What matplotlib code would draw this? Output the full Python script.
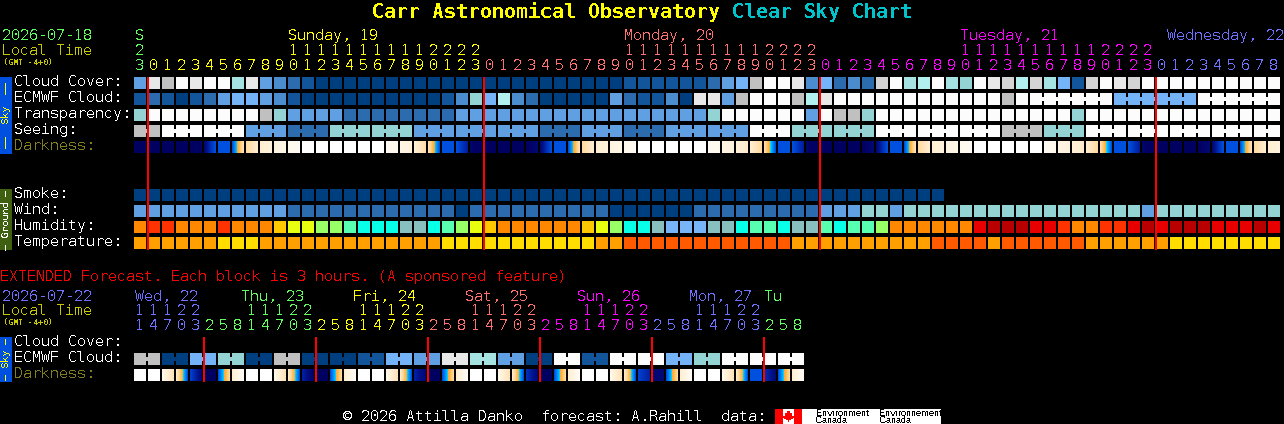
#!/usr/bin/env python3
"""Clear sky chart: one block per hour, black background, fixed pitch labels."""

import matplotlib

matplotlib.use("Agg")
import matplotlib.pyplot as plt
import numpy as np
from matplotlib.colors import LinearSegmentedColormap

# sky palette, from clear/good (dark blue) to overcast/poor (white)
SKY = ["#003f7f", "#13559a", "#2b6bae", "#4b8ccf", "#5f9fe2", "#74b3f7", "#93d3d3",
       "#a5e3e3", "#b2f0f0", "#c0c0c0", "#d4d4d4", "#e8e8e8", "#fcfcfc"]
HUMID = ["#b80000", "#e80000", "#ff3300", "#ff8800", "#ffc800", "#e8ff10", "#98ff66",
         "#58ffb0", "#08ffe8", "#88c0c0", "#78b4f8"]
TEMP = ["#ffdd00", "#ffa000", "#ff5a00"]

GREEN = "#60ff60"
YELLOW = "#ffff00"
SALMON = "#ff7070"
MAGENTA = "#ff00ff"
BLUE = "#7070ff"

cloud = [4, 11, 9, 12, 11, 12, 12, 7, 11, 4, 3, 2, 1, 0, 0, 0, 0, 0, 0, 0, 0,
         0, 0, 0, 0, 0, 0, 0, 0, 0, 0, 0, 0, 0, 0,
         1, 1, 1, 1, 1, 1, 2, 4, 5, 9, 12, 12, 11, 3, 5, 2, 3,
         2, 10, 12, 7, 8, 12, 7, 6, 12, 11, 10, 8, 10, 7, 5, 1, 10, 12, 11, 10, 12,
         12, 12, 12, 12, 12, 12, 12, 12, 12]
ecmwf = [1, 2, 1, 0, 1, 2, 4, 5, 5, 4, 3, 1, 0, 0, 0, 0, 0, 0, 0, 0, 0,
         0, 1, 3, 6, 5, 8, 3, 2, 0, 0, 0, 0, 0, 4, 2, 1, 1, 3, 0, 11, 11, 4, 9,
         12, 12, 12, 9, 8, 11, 12, 12,
         12, 12, 12, 12, 12, 12, 12, 12, 12, 12, 9, 12,
         12, 12, 12, 12, 12, 12, 5, 5, 5, 5, 5, 5, 12, 12, 12, 12, 12, 12]
ecmwf_runs = [(64, 69), (70, 75), (76, 81)]
transparency = [6, 12, 12, 12, 12, 12, 12, 12, 12, 9, 6, 4, 4, 4, 4, 2, 2, 2, 2, 2, 2,
                2, 2, 4, 4, 4, 4, 4, 4, 4, 4, 4, 4, 4, 4, 4, 4, 4, 4, 4, 4, 6,
                12, 12, 12, 12, 12, 12, 4, 12, 9, 9,
                6, 12, 12, 12, 12, 12, 12, 12, 12, 12, 12, 12, 12, 12, 12, 6,
                12, 12, 12, 12, 12, 12, 12, 12, 12, 12, 12, 12, 12, 12]
seeing_levels = [9, 12, 12, 4, 2, 6, 6, 4, 4, 4, 2, 4, 2, 4, 4, 12, 6, 6, 12, 12, 12, 9, 6,
                 12, 12, 12, 12, 12]
seeing_sizes = [2] + [3] * 26 + [2]
smoke = [0] * 58
wind = [4, 4, 4, 4, 4, 4, 4, 4, 4, 4, 4, 2, 2, 2, 2, 2, 2, 2, 2, 2, 2,
        2, 2, 0, 2, 2, 2, 2, 2, 2, 2, 2, 2, 2, 0, 0, 0, 0, 0, 0,
        2, 2, 2, 2, 2, 2, 2, 2, 2, 4, 4, 4,
        6, 6, 4, 6, 6, 6, 6, 6, 6, 6, 6, 6, 6, 6, 6, 6, 6, 6, 6, 6, 4,
        6, 6, 6, 6, 6, 6, 6, 6, 6]
humidity = [3, 2, 2, 3, 3, 3, 2, 3, 3, 3, 4, 5, 5, 6, 6, 7, 8, 8, 8, 9, 9,
            8, 7, 6, 5, 4, 3, 3, 3, 3, 3, 3, 4, 5, 6, 8, 8, 9, 10, 10, 10,
            9, 9, 8, 7, 7, 8, 9, 9, 7, 8, 7,
            7, 6, 3, 3, 3, 3, 3, 3, 1, 0, 0, 0, 1, 1, 2, 3, 3, 2, 2, 1, 0,
            1, 0, 0, 0, 1, 1, 1, 0, 1]
temperature = [1, 1, 1, 1, 1, 1, 0, 0, 0, 1, 1, 1, 1, 1, 1, 1, 1, 1, 1, 1, 1,
               1, 0, 0, 0, 0, 0, 0, 0, 0, 0, 0, 0, 1, 1,
               2, 2, 2, 2, 2, 2, 2, 2, 2, 2, 2, 2, 1, 1, 1, 1, 1,
               1, 1, 1, 1, 1, 2, 2, 2, 2, 1, 2, 2, 2, 2, 2, 2, 1, 1, 1, 1, 1, 1,
               0, 0, 0, 0, 0, 0, 0, 0]

# darkness level at left and right edge of a block: 0 is white day, 8 is deep night
dark_left = [8, 8, 8, 8, 8, 7.5, 5, 5, 2, 1, 0.7, 0.4, 0, 0, 0, 0, 0, 0, 0.3, 0.6, 0.9, 1.6,
             5, 5, 7.8, 8, 8, 8, 8, 7.5, 5, 5, 2, 1, 0.7, 0.4, 0, 0, 0, 0, 0, 0.3, 0.6, 0.9,
             1, 1.8, 5, 5, 7.8, 8, 8, 8, 8, 7.5, 5, 5, 2, 1, 0.7, 0.4, 0, 0, 0, 0, 0, 0.3, 0.6,
             0.9, 1, 1.8, 5, 5, 7.8, 8, 8, 8, 8, 7.5, 5, 5, 2, 1]
dark_right = [8, 8, 8, 8, 7.9, 5, 5, 1.6, 1, 0.8, 0.5, 0.3, 0, 0, 0, 0, 0, 0, 0.4, 0.8, 1.8, 5,
              5, 6.6, 8, 8, 8, 8, 7.5, 5, 5, 1.6, 1, 0.8, 0.5, 0.3, 0, 0, 0, 0, 0, 0.4, 0.8, 1.1,
              2, 5, 5, 6.6, 8, 8, 8, 8, 7.5, 5, 5, 1.6, 1, 0.8, 0.5, 0.3, 0, 0, 0, 0, 0, 0.4, 0.8,
              1.1, 2, 5, 5, 6.6, 8, 8, 8, 8, 7.5, 5, 5, 1.6, 1, 0.8]

hour_ones = [3] + [h % 10 for h in range(24)] * 3 + list(range(9))
hour_tens = ["2"] + ([""] * 10 + ["1"] * 10 + ["2"] * 4) * 3 + [""] * 9
hour_colors = [GREEN] + [YELLOW] * 24 + [SALMON] * 24 + [MAGENTA] * 24 + [BLUE] * 9

# extended forecast
ext_ecmwf = [9, 0, 5, 6, 0, 9, 0, 0, 1, 5, 4, 11, 7, 4, 0, 12, 1, 12, 12, 5, 6, 12, 12, 12]
ext_dark_left = [0, 0, 0.4, 1.2, 5.5, 8, 5, 1,
                 0, 0, 0.4, 1.2, 6.5, 8, 5, 1,
                 0, 0, 0.4, 1.2, 6.5, 8, 5, 1,
                 0, 0, 0.4, 1.2, 6, 8, 5, 1,
                 0, 0, 0.4, 1.2, 5.5, 7.5, 5, 1,
                 0, 0, 0.4, 1.2, 5, 6, 5, 1]
ext_dark_right = [0, 0, 1.6, 5, 7.5, 8, 2, 0.2,
                  0, 0, 1.6, 5, 7.9, 8, 2, 0.2,
                  0, 0, 1.6, 5, 7.5, 8, 2, 0.2,
                  0, 0, 1.6, 5, 7.5, 8, 2, 0.2,
                  0, 0, 1.6, 5, 6.5, 7.5, 2, 0.2,
                  0, 0, 1.6, 5, 5, 7.5, 2, 0.2]
ext_hours = [1, 4, 7, 0, 3, 2, 5, 8] * 6
ext_tens = ["1", "1", "1", "2", "2", "", "", ""] * 6
ext_colors = [BLUE] * 5 + [GREEN] * 8 + [YELLOW] * 8 + [SALMON] * 8 + [MAGENTA] * 8 + [BLUE] * 8 + [GREEN] * 3
ext_days = [("Wed, 22", BLUE, 135), ("Thu, 23", GREEN, 241), ("Fri, 24", YELLOW, 353),
            ("Sat, 25", SALMON, 465), ("Sun, 26", MAGENTA, 577), ("Mon, 27", BLUE, 689),
            ("Tu", GREEN, 764)]

DARK_CMAP = LinearSegmentedColormap.from_list(
    "darkness",
    [(0 / 8, "#ffffff"), (1 / 8, "#ffeed2"), (2 / 8, "#ffd9a0"), (3 / 8, "#ffb848"),
     (3.5 / 8, "#ffa030"), (3.501 / 8, "#00e0ff"), (4 / 8, "#00a0ff"), (5 / 8, "#0050e0"),
     (6 / 8, "#0030b8"), (7 / 8, "#001088"), (8 / 8, "#000060")],
    N=1024,
)

GRID_X = 134
PITCH = 14
CELL = 12
MONO = "DejaVu Sans Mono"

plt.rcParams["text.antialiased"] = False
plt.rcParams["text.hinting"] = "native"
plt.rcParams["text.hinting_factor"] = 1
plt.rcParams["font.family"] = MONO


def col_x(col):
    return GRID_X + PITCH * np.asarray(col)


def draw_row(ax, top, levels, palette, runs=()):
    cols = np.arange(len(levels))
    colors = [palette[v] for v in levels]
    ax.bar(col_x(cols), CELL, width=CELL, bottom=top, align="edge", color=colors,
           linewidth=0, antialiased=False)
    for first, last in runs:
        for col in range(first, last):
            ax.bar(col_x(col) + CELL, 4, width=PITCH - CELL, bottom=top + 4, align="edge",
                   color=palette[levels[col]], linewidth=0, antialiased=False)


def draw_darkness(ax, top, left, right):
    for col, (a, b) in enumerate(zip(left, right)):
        steps = np.linspace(a, b, CELL) / 8
        ax.bar(col_x(col) + np.arange(CELL), CELL, width=1, bottom=top, align="edge",
               color=DARK_CMAP(steps), linewidth=0, antialiased=False)


def draw_midnight(ax, cols, top, bottom):
    for col in cols:
        bars = ax.bar(col_x(col) - 1, bottom - top, width=2, bottom=top, align="edge",
                      color="#ff0000", linewidth=0, antialiased=True, zorder=3)
        bars[0].set_snap(False)


def label(ax, x, y, text, color="white", size=10.75, **kwargs):
    ax.text(x, y, text, color=color, fontsize=size, va="baseline", **kwargs)


def side_tab(ax, top, bottom, face, text, color):
    ax.bar(0, bottom - top, width=12, bottom=top, align="edge", color=face, linewidth=0,
           antialiased=False)
    ax.text(6, (top + bottom) / 2, text, color=color, fontsize=7.2, rotation=90,
            ha="center", va="center")


fig = plt.figure(figsize=(12.84, 4.24), dpi=100, facecolor="black")
ax = fig.add_axes([0, 0, 1, 1])
ax.set_xlim(0, 1284)
ax.set_ylim(424, 0)
ax.axis("off")

# title
title = [("Carr Astronomical Observatory", "#ffff00", 372), ("Clear Sky Chart", "#00c4cc", 732)]
for text, color, x in title:
    ax.text(x, 18, text, color=color, fontsize=14.35, fontweight="bold", va="baseline")

# header of the hourly part
label(ax, 2, 40, "2026-07-18", GREEN)
label(ax, 2, 55, "Local Time", "#c8c800")
label(ax, 3, 65, "(GMT -4+0)", "#c8c800", size=5.6, fontweight="bold")
day_heads = [("S", GREEN, 135), ("Sunday, 19", YELLOW, 288), ("Monday, 20", SALMON, 624),
             ("Tuesday, 21", MAGENTA, 960), ("Wednesday, 22", BLUE, 1167)]
for text, color, x in day_heads:
    label(ax, x, 40, text, color)
for col, (ones, tens, color) in enumerate(zip(hour_ones, hour_tens, hour_colors)):
    x = col_x(col) + 1
    label(ax, x, 55, tens, color)
    label(ax, x, 70, str(ones), color)

# sky rows
side_tab(ax, 77, 154, "#0050e0", "\u2013\u2013  Sky  \u2013\u2013", "#ffff00")
sky_names = ["Cloud Cover:", "ECMWF Cloud:", "Transparency:", "Seeing:"]
for i, name in enumerate(sky_names):
    label(ax, 14, 86 + 16 * i, name)
label(ax, 14, 150, "Darkness:", "#808020")

draw_row(ax, 77, cloud, SKY)
draw_row(ax, 93, ecmwf, SKY, runs=ecmwf_runs)
draw_row(ax, 109, transparency, SKY)
seeing = np.repeat(seeing_levels, seeing_sizes)
seeing_ends = np.cumsum(seeing_sizes)
seeing_runs = [(end - size, end - 1) for end, size in zip(seeing_ends, seeing_sizes)]
draw_row(ax, 125, seeing, SKY, runs=seeing_runs)
draw_darkness(ax, 141, dark_left, dark_right)

# ground rows
side_tab(ax, 189, 250, "#3f6010", "\u2013 Ground \u2013", "white")
ground_names = ["Smoke:", "Wind:", "Humidity:", "Temperature:"]
for i, name in enumerate(ground_names):
    label(ax, 14, 198 + 16 * i, name)
draw_row(ax, 189, smoke, SKY)
draw_row(ax, 205, wind, SKY)
draw_row(ax, 221, humidity, HUMID)
draw_row(ax, 237, temperature, TEMP)
draw_midnight(ax, [1, 25, 49, 73], 77, 250)

# extended forecast
label(ax, 0, 281, "EXTENDED Forecast. Each block is 3 hours. (A sponsored feature)", "#ff0000")
label(ax, 2, 301, "2026-07-22", BLUE)
label(ax, 2, 315, "Local Time", "#c8c800")
label(ax, 3, 325, "(GMT -4+0)", "#c8c800", size=5.6, fontweight="bold")
for text, color, x in ext_days:
    label(ax, x, 301, text, color)
for col, (ones, tens, color) in enumerate(zip(ext_hours, ext_tens, ext_colors)):
    x = col_x(col) + 1
    label(ax, x, 315, tens, color)
    label(ax, x, 330, str(ones), color)

side_tab(ax, 337, 382, "#0050e0", "\u2013 Sky \u2013", "#ffff00")
label(ax, 14, 346, "Cloud Cover:")
label(ax, 14, 362, "ECMWF Cloud:")
label(ax, 14, 378, "Darkness:", "#808020")

ext_levels = np.repeat(ext_ecmwf, 2)
ext_runs = [(2 * i, 2 * i + 1) for i in range(len(ext_ecmwf))]
draw_row(ax, 353, ext_levels, SKY, runs=ext_runs)
draw_darkness(ax, 369, ext_dark_left, ext_dark_right)
draw_midnight(ax, [5, 13, 21, 29, 37, 45], 337, 382)

# footer and data credit
label(ax, 343, 421, "\u00a9 2026 Attilla Danko  forecast: A.Rahill  data:")
ax.bar(775, 15, width=166, bottom=409, align="edge", color="white", linewidth=0, antialiased=False)
for x, width in [(775, 8), (794, 8)]:
    ax.bar(x, 15, width=width, bottom=409, align="edge", color="#ff0000", linewidth=0,
           antialiased=False)
leaf_x = [788.5, 790, 792, 791.5, 793.5, 793, 789, 789, 788, 788, 784, 783.5, 785.5, 785, 787]
leaf_y = [411, 413.5, 413, 416, 416.5, 418, 419.5, 421.5, 421.5, 419.5, 418, 416.5, 416, 413, 413.5]
ax.fill(leaf_x, leaf_y, color="#ff0000", linewidth=0, antialiased=False)
for x, name in [(816, "Environment"), (879, "Environnement")]:
    ax.text(x, 416, name, color="black", fontsize=6.2, family="Liberation Sans", va="baseline")
    ax.text(x, 423, "Canada", color="black", fontsize=6.2, family="Liberation Sans", va="baseline")

fig.savefig("out.png", dpi=100, facecolor="black")
